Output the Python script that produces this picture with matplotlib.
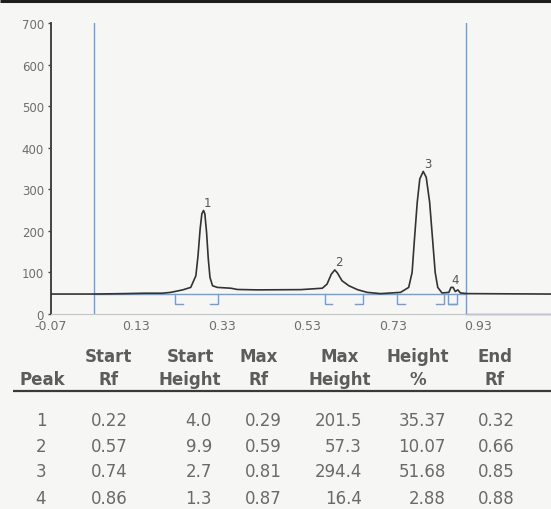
"""Densitometry scan: lane trace with peak table (recreated)."""
import matplotlib
matplotlib.use("Agg")
import matplotlib.pyplot as plt
import numpy as np

plt.rcParams["font.family"] = ["DejaVu Sans"]

# trace: Rf vs signal
rf_trace = [-0.07, 0.03, 0.10, 0.15, 0.19, 0.21, 0.238, 0.257, 0.269, 0.274,
            0.279, 0.283, 0.287, 0.290, 0.294, 0.298, 0.302, 0.308, 0.319,
            0.351, 0.366, 0.413, 0.491, 0.514, 0.565, 0.576, 0.586, 0.594,
            0.600, 0.611, 0.627, 0.647, 0.670, 0.701, 0.748, 0.767, 0.775,
            0.780, 0.787, 0.793, 0.801, 0.808, 0.816, 0.824, 0.829, 0.835,
            0.845, 0.861, 0.866, 0.871, 0.876, 0.882, 0.888, 0.904, 1.10]
signal = [48, 48, 49, 50, 50, 52, 58, 64, 92, 140,
          205, 241, 249, 241, 197, 133, 88, 68, 64,
          62, 59, 58, 58.5, 58.6, 62, 72, 96, 106,
          99, 80, 68, 58.6, 52, 49, 52, 64, 100,
          173, 269, 325, 343, 329, 269, 165, 100, 64,
          50.6, 52, 64, 64, 54, 58, 50.6, 49, 48]

baseline = 48
front_lines = [0.03, 0.90]

# peak table
peak_ids = ["1", "2", "3", "4"]
start_rf = [0.22, 0.57, 0.74, 0.86]
start_height = [4.0, 9.9, 2.7, 1.3]
max_rf = [0.29, 0.59, 0.81, 0.87]
max_height = [201.5, 57.3, 294.4, 16.4]
height_pct = [35.37, 10.07, 51.68, 2.88]
end_rf = [0.32, 0.66, 0.85, 0.88]

x_ticks = [-0.07, 0.13, 0.33, 0.53, 0.73, 0.93]
y_ticks = [0, 100, 200, 300, 400, 500, 600, 700]

BLUE = "#6f9fd6"
BG = "#f6f6f5"

W, H = 551, 510
fig = plt.figure(figsize=(W / 100, H / 100), dpi=100, facecolor=BG)

ax = fig.add_axes([51 / W, (H - 315) / H, 1 - 51 / W, (315 - 24) / H])
ax.set_facecolor("none")
ax.set_xlim(-0.07, 1.10)
ax.set_ylim(0, 700)

for s in ("top", "right"):
    ax.spines[s].set_visible(False)
ax.spines["left"].set_color("#444444")
ax.spines["left"].set_linewidth(1.4)
ax.spines["bottom"].set_color("#c4c4c4")
ax.spines["bottom"].set_linewidth(0.8)

ax.set_xticks(x_ticks)
ax.set_xticklabels([f"{v:.2f}" for v in x_ticks])
ax.set_yticks(y_ticks)
ax.tick_params(axis="x", length=0, pad=3.5, labelsize=9, labelcolor="#6e6e6e")
ax.tick_params(axis="y", length=2.5, width=1, color="#444444", pad=2.5,
               labelsize=8.5, labelcolor="#6e6e6e")

# origin / front markers and baseline
for fx in front_lines:
    ax.axvline(fx, color=BLUE, lw=1.0, zorder=1)
ax.plot(front_lines, [baseline, baseline], color=BLUE, lw=1.0, zorder=1)
ax.plot([front_lines[1], 1.10], [1, 1], color="#7d70c4", lw=1.0, zorder=1,
        clip_on=False)

# integration brackets
foot = 0.018
low = baseline - 24
for a, b in zip(start_rf, end_rf):
    ax.plot([a, a, a + foot], [baseline, low, low], color=BLUE, lw=1.0, zorder=2)
    ax.plot([b, b, b - foot], [baseline, low, low], color=BLUE, lw=1.0, zorder=2)

ax.plot(rf_trace, signal, color="#333333", lw=1.2, zorder=3)

# peak numbers above the maxima of the trace
xs = np.array(rf_trace)
ys = np.array(signal)
for pid, a, b in zip(peak_ids, start_rf, end_rf):
    m = (xs >= a) & (xs <= b + 0.005)
    i = np.argmax(np.where(m, ys, -1))
    ax.annotate(pid, (xs[i], ys[i]), xytext=(3, 6), textcoords="offset points",
                ha="center", va="center", fontsize=8.5, color="#555555")

# table (pixel coordinates on a full-figure overlay)
tab = fig.add_axes([0, 0, 1, 1])
tab.set_xlim(0, W)
tab.set_ylim(H, 0)
tab.axis("off")
tab.patch.set_alpha(0)

tab.plot([0, W], [1.5, 1.5], color="#1e1e1e", lw=2.2, solid_capstyle="butt")

hdr_kw = dict(ha="center", va="center", fontsize=12, fontweight="bold",
              color="#5c5c5c")
headers = [("", "Peak"), ("Start", "Rf"), ("Start", "Height"), ("Max", "Rf"),
           ("Max", "Height"), ("Height", "%"), ("End", "Rf")]
hdr_x = [42, 108, 190, 259, 340, 418, 495]
for (l1, l2), hx in zip(headers, hdr_x):
    if l1:
        tab.text(hx, 357.5, l1, **hdr_kw)
    tab.text(hx, 380, l2, **hdr_kw)

tab.plot([13, W], [392, 392], color="#3a3a3a", lw=1.6, solid_capstyle="butt")

row_y = [421, 447.5, 472.5, 499]
val_kw = dict(va="center", fontsize=12, color="#6a6a6a")
cols = [
    ([f"{v:.2f}" for v in start_rf], 128),
    ([f"{v:.1f}" for v in start_height], 212),
    ([f"{v:.2f}" for v in max_rf], 282),
    ([f"{v:.1f}" for v in max_height], 362),
    ([f"{v:.2f}" for v in height_pct], 446),
    ([f"{v:.2f}" for v in end_rf], 515),
]
for r, ry in enumerate(row_y):
    tab.text(41, ry, peak_ids[r], ha="center", **val_kw)
    for vals, rx in cols:
        tab.text(rx, ry, vals[r], ha="right", **val_kw)

fig.savefig("out.png", dpi=100, facecolor=BG)
